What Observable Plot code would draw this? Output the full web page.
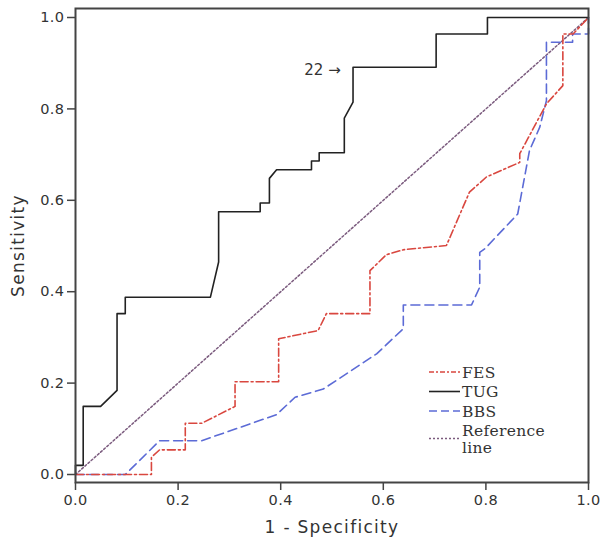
<!DOCTYPE html>
<html>
<head>
<meta charset="utf-8">
<script src="https://cdn.jsdelivr.net/npm/d3@7"></script>
<script src="https://cdn.jsdelivr.net/npm/@observablehq/plot@0.6"></script>
<style>
  html, body { margin: 0; padding: 0; background: #fff; }
  #chart { position: relative; width: 600px; height: 541px; }
  g[aria-label="x-axis label"] text, g[aria-label="y-axis label"] text { letter-spacing: 1.3px; }
  g[aria-label="x-axis tick label"] text, g[aria-label="y-axis tick label"] text { letter-spacing: 0.4px; }
</style>
</head>
<body>
<div id="chart"></div>
<script>
// ROC curves: x = 1 - Specificity, y = Sensitivity
const tugX = [0, 0, 0.015, 0.015, 0.049, 0.081, 0.081, 0.097, 0.097, 0.263, 0.279, 0.279, 0.36, 0.36, 0.378, 0.378, 0.392, 0.46, 0.46, 0.475, 0.475, 0.524, 0.524, 0.541, 0.541, 0.703, 0.703, 0.803, 0.803, 1.0];
const tugY = [0, 0.02, 0.02, 0.149, 0.149, 0.184, 0.352, 0.352, 0.388, 0.388, 0.465, 0.575, 0.575, 0.594, 0.594, 0.648, 0.667, 0.667, 0.686, 0.686, 0.704, 0.704, 0.78, 0.815, 0.891, 0.891, 0.964, 0.964, 1.0, 1.0];

const fesX = [0, 0.148, 0.148, 0.164, 0.214, 0.214, 0.246, 0.311, 0.311, 0.396, 0.396, 0.473, 0.489, 0.574, 0.574, 0.606, 0.64, 0.723, 0.768, 0.801, 0.866, 0.866, 0.918, 0.95, 0.95, 0.97, 1.0];
const fesY = [0, 0, 0.038, 0.054, 0.054, 0.112, 0.112, 0.149, 0.203, 0.203, 0.297, 0.315, 0.352, 0.352, 0.446, 0.481, 0.492, 0.501, 0.618, 0.651, 0.683, 0.702, 0.811, 0.851, 0.964, 0.964, 1.0];

const bbsX = [0, 0.097, 0.164, 0.246, 0.392, 0.428, 0.483, 0.587, 0.639, 0.639, 0.772, 0.788, 0.788, 0.798, 0.862, 0.885, 0.905, 0.918, 0.918, 0.969, 0.969, 1.0, 1.0];
const bbsY = [0, 0, 0.074, 0.074, 0.131, 0.169, 0.187, 0.264, 0.319, 0.371, 0.371, 0.41, 0.486, 0.494, 0.570, 0.709, 0.76, 0.818, 0.946, 0.946, 0.964, 0.964, 1.0];

const refX = [0, 1];
const refY = [0, 1];

const tickValues = [0, 0.2, 0.4, 0.6, 0.8, 1.0];
const tickLabels = ["0.0", "0.2", "0.4", "0.6", "0.8", "1.0"];

const seriesNames = ["FES", "TUG", "BBS", "Reference line"];
const seriesColors = ["#d9473f", "#222222", "#5c6bd6", "#7b5b7e"];
const seriesDash = ["8,3,2,3", null, "9,5", "2,2.2"];
const legendDash = ["5,2,2,2", null, "8,4", "2,2"];

const annotX = [0.517];
const annotY = [0.884];
const annotText = ["22 \u2192"];

const toPts = (xs, ys) => xs.map((x, i) => ({x, y: ys[i]}));
const fmt = d => tickLabels[tickValues.indexOf(d)] ?? d3.format(".1f")(d);

const W = 600, H = 541;
const sansFont = "DejaVu Sans, Verdana, sans-serif";

const plot = Plot.plot({
  width: W,
  height: H,
  marginLeft: 75,
  marginRight: 12,
  marginTop: 8,
  marginBottom: 59,
  style: {fontFamily: sansFont, background: "#fff", color: "#333"},
  x: {domain: [0, 1]},
  y: {domain: [-0.0175, 1.0197]},
  marks: [
    Plot.line(toPts(refX, refY), {x: "x", y: "y", stroke: seriesColors[3], strokeWidth: 1.5, strokeDasharray: seriesDash[3]}),
    Plot.line(toPts(bbsX, bbsY), {x: "x", y: "y", stroke: seriesColors[2], strokeWidth: 1.6, strokeDasharray: seriesDash[2]}),
    Plot.line(toPts(fesX, fesY), {x: "x", y: "y", stroke: seriesColors[0], strokeWidth: 1.6, strokeDasharray: seriesDash[0]}),
    Plot.line(toPts(tugX, tugY), {x: "x", y: "y", stroke: seriesColors[1], strokeWidth: 1.6}),
    Plot.text(annotText.map((t, i) => ({x: annotX[i], y: annotY[i], t})), {x: "x", y: "y", text: "t", textAnchor: "end", fontSize: 15, fill: "#333"}),
    Plot.frame({stroke: "#444", strokeWidth: 2}),
    Plot.axisX({ticks: tickValues, tickFormat: fmt, tickSize: 8, tickPadding: 4, fontSize: 14.5, stroke: "#444", strokeWidth: 1.5, label: null}),
    Plot.axisX({ticks: [], label: "1 - Specificity", labelAnchor: "center", labelArrow: "none", labelOffset: 50, fontSize: 17}),
    Plot.axisY({ticks: tickValues, tickFormat: fmt, tickSize: 8, tickPadding: 3, fontSize: 14.5, stroke: "#444", strokeWidth: 1.5, label: null}),
    Plot.axisY({ticks: [], label: "Sensitivity", labelAnchor: "center", labelArrow: "none", labelOffset: 64, fontSize: 17})
  ]
});

document.getElementById("chart").appendChild(plot);

// Legend drawn inside the plot area (bottom-right)
const svg = d3.select(plot);
const lg = svg.append("g").attr("aria-label", "legend").attr("transform", "translate(429,372)");
const rowH = 19.5;
seriesNames.forEach((name, i) => {
  const yRow = i * rowH;
  const lineY = i === 3 ? yRow + 8 : yRow;
  lg.append("line")
    .attr("x1", 0).attr("x2", 31).attr("y1", lineY).attr("y2", lineY)
    .attr("stroke", seriesColors[i]).attr("stroke-width", 1.6)
    .attr("stroke-dasharray", legendDash[i]);
  const words = name === "Reference line" ? ["Reference", "line"] : [name];
  words.forEach((w, j) => {
    lg.append("text")
      .attr("x", 33).attr("y", yRow + j * 17).attr("dy", "0.36em")
      .attr("text-anchor", "start")
      .attr("font-family", "DejaVu Serif, Liberation Serif, serif")
      .attr("font-size", 15.5).attr("letter-spacing", "0.3px")
      .attr("fill", "#333")
      .text(w);
  });
});
</script>
</body>
</html>
